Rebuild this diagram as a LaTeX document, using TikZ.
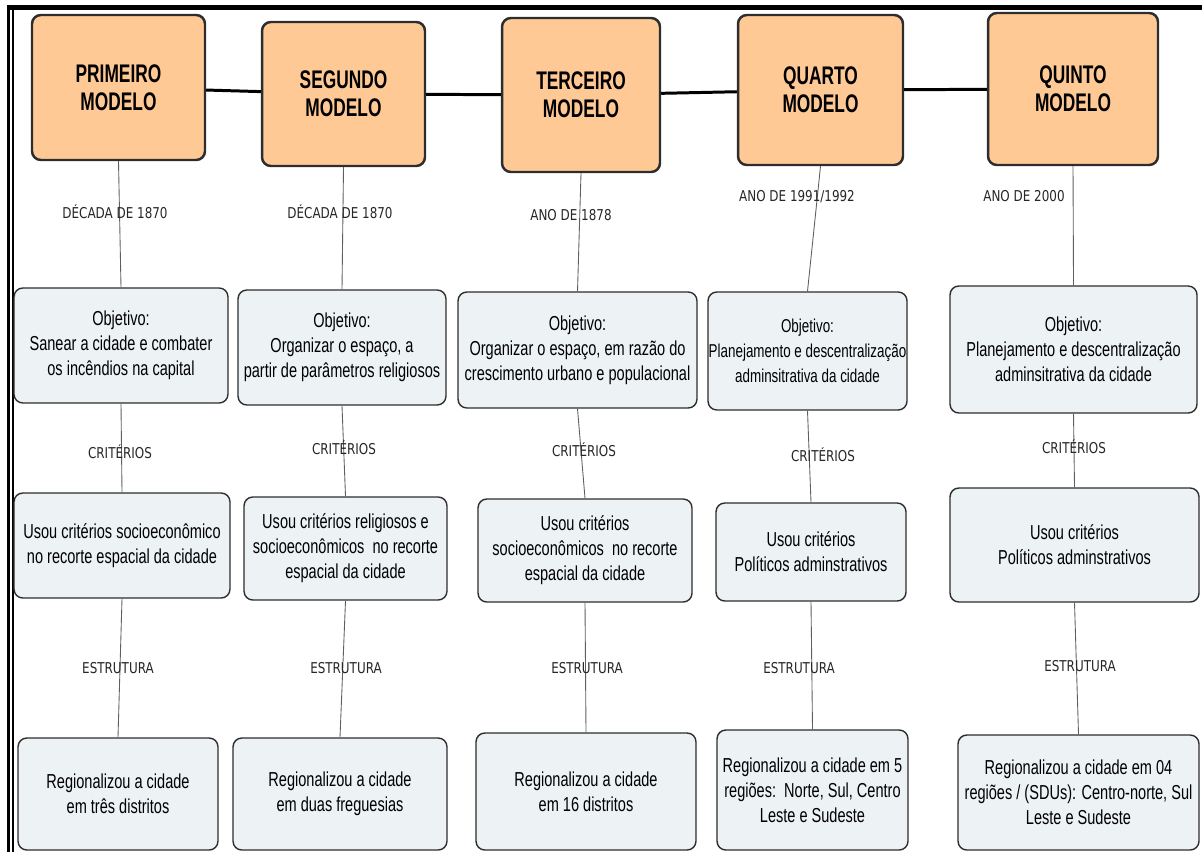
\documentclass[tikz,border=0pt]{standalone}
\usepackage{fontspec}
\usepackage{xcolor}
\usepackage{tikz}
\usetikzlibrary{positioning}
\newfontfamily\narrowsans[FakeStretch=0.72]{Liberation Sans}
\newfontfamily\modelsans[FakeStretch=0.68]{Liberation Sans}
\newfontfamily\labelsans[FakeStretch=0.8]{DejaVu Sans}
\definecolor{ModelOrange}{RGB}{255,201,150}
\definecolor{BoxFill}{RGB}{237,242,245}
\definecolor{BoxEdge}{RGB}{45,45,45}
\definecolor{LinkGray}{RGB}{95,95,95}

\begin{document}
\begin{tikzpicture}[
    x=0.02cm, y=-0.02cm,
    model/.style={rectangle, draw=BoxEdge, line width=1.4pt, fill=ModelOrange,
                  rounded corners=5pt, align=center, inner sep=0pt,
                  font=\modelsans\bfseries\fontsize{14.5pt}{16pt}\selectfont},
    block/.style={rectangle, draw=BoxEdge, line width=0.8pt, fill=BoxFill,
                  rounded corners=5pt, align=center, inner sep=0pt,
                  font=\narrowsans\fontsize{11.5pt}{14.2pt}\selectfont},
    small/.style={font=\narrowsans\fontsize{10.6pt}{14.2pt}\selectfont},
    tag/.style={font=\labelsans\fontsize{8.5pt}{10pt}\selectfont, text=black!85, inner sep=1pt},
    link/.style={line width=1.7pt, black},
    stem/.style={line width=0.5pt, LinkGray}
]
\useasboundingbox (0,0) rectangle (1202,852);

% Frame
\fill[black] (7,5) rectangle (1202,10);
\fill[black] (6.5,5) rectangle (10,852);
\fill[black] (12,10) rectangle (14,852);

% Top row - models
\node[model, minimum width=3.46cm, minimum height=2.9cm] (m1) at (118.5,87.5) {PRIMEIRO\\MODELO};
\node[model, minimum width=3.26cm, minimum height=2.88cm] (m2) at (343.5,94) {SEGUNDO\\MODELO};
\node[model, minimum width=3.16cm, minimum height=3.08cm] (m3) at (581,95) {TERCEIRO\\MODELO};
\node[model, minimum width=3.3cm, minimum height=3.0cm] (m4) at (820.5,90) {QUARTO\\MODELO};
\node[model, minimum width=3.4cm, minimum height=3.04cm] (m5) at (1073,89) {QUINTO\\MODELO};

% Second row - objectives
\node[block, minimum width=4.28cm, minimum height=2.3cm] (obj1) at (121,345.5) {Objetivo:\\Sanear a cidade e combater\\os incêndios na capital};
\node[block, minimum width=4.16cm, minimum height=2.3cm] (obj2) at (342,347.5) {Objetivo:\\Organizar o espaço, a\\partir de parâmetros religiosos};
\node[block, minimum width=4.78cm, minimum height=2.32cm] (obj3) at (577.5,350) {Objetivo:\\Organizar o espaço, em razão do\\crescimento urbano e populacional};
\node[block, small, minimum width=3.98cm, minimum height=2.36cm] (obj4) at (807.5,351) {Objetivo:\\Planejamento e descentralização\\adminsitrativa da cidade};
\node[block, minimum width=4.94cm, minimum height=2.54cm] (obj5) at (1073.5,349.5) {Objetivo:\\Planejamento e descentralização\\adminsitrativa da cidade};

% Third row - criteria
\node[block, minimum width=4.32cm, minimum height=2.1cm] (crit1) at (122,545.5) {Usou critérios socioeconômico\\no recorte espacial da cidade};
\node[block, minimum width=4.06cm, minimum height=2.06cm] (crit2) at (345.5,548.5) {Usou critérios religiosos e\\socioeconômicos\ \ no recorte\\espacial da cidade};
\node[block, minimum width=4.28cm, minimum height=2.06cm] (crit3) at (585,550.5) {Usou critérios\\socioeconômicos\ \ no recorte\\espacial da cidade};
\node[block, minimum width=3.8cm, minimum height=1.96cm] (crit4) at (811,552) {Usou critérios\\Políticos adminstrativos};
\node[block, minimum width=4.98cm, minimum height=2.28cm] (crit5) at (1074.5,545) {Usou critérios\\Políticos adminstrativos};

% Bottom row - structure
\node[block, minimum width=4.0cm, minimum height=2.24cm] (reg1) at (118,794) {Regionalizou a cidade\\em três distritos};
\node[block, minimum width=4.28cm, minimum height=2.24cm] (reg2) at (340,794) {Regionalizou a cidade\\em duas freguesias};
\node[block, minimum width=4.4cm, minimum height=2.34cm] (reg3) at (586,791.5) {Regionalizou a cidade\\em 16 distritos};
\node[block, minimum width=3.82cm, minimum height=2.4cm] (reg4) at (812.5,790) {Regionalizou a cidade em 5\\regiões:\ \ Norte, Sul, Centro\\Leste e Sudeste};
\node[block, minimum width=4.82cm, minimum height=2.3cm] (reg5) at (1078.5,792.5) {Regionalizou a cidade em 04\\regiões / (SDUs): Centro-norte, Sul\\Leste e Sudeste};

% Links between models
\draw[link] (m1) -- (m2);
\draw[link] (m2) -- (m3);
\draw[link] (m3) -- (m4);
\draw[link] (m4) -- (m5);

% Stems
\foreach \i in {1,...,5} {
  \draw[stem] (m\i.south) -- (obj\i.north);
  \draw[stem] (obj\i.south) -- (crit\i.north);
  \draw[stem] (crit\i.south) -- (reg\i.north);
}

% Stem labels
\node[tag] (dec1) at (115,212) {DÉCADA DE 1870};
\node[tag] (dec2) at (340,212) {DÉCADA DE 1870};
\node[tag] (ano3) at (571,215) {ANO DE 1878};
\node[tag] (ano4) at (797,197) {ANO DE 1991/1992};
\node[tag] (ano5) at (1024,196) {ANO DE 2000};

\foreach \i/\cx/\cy in {1/120/452, 2/344/448, 3/584/450, 4/823/455, 5/1074/447}
  \node[tag] (cr\i) at (\cx,\cy) {CRITÉRIOS};
\foreach \i/\cx/\cy in {1/118/668, 2/346/668, 3/587/668, 4/799/668, 5/1080/666}
  \node[tag] (es\i) at (\cx,\cy) {ESTRUTURA};

\end{tikzpicture}
\end{document}
